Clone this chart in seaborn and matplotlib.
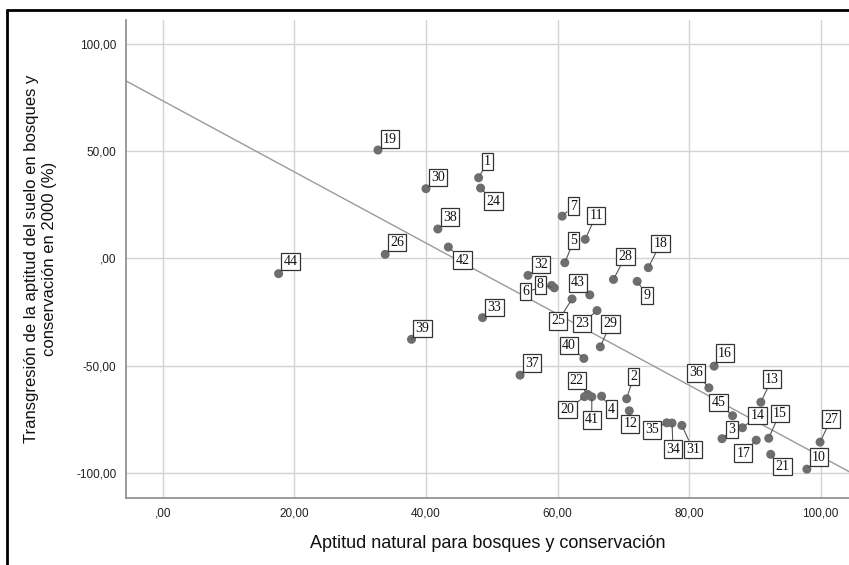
import pandas as pd
import numpy as np
import matplotlib
matplotlib.use("Agg")
import matplotlib.pyplot as plt
import seaborn as sns
from matplotlib.lines import Line2D
from matplotlib.ticker import FuncFormatter

# Data (case id, x, y)
case_id = list(range(1, 46))
aptitud = [48.0, 70.5, 85.0, 66.7, 61.1, 59.1, 60.7, 59.5, 72.1, 97.9,
           64.2, 70.9, 90.9, 88.1, 92.1, 83.8, 90.2, 73.8, 32.7, 64.1,
           92.4, 64.6, 66.0, 48.3, 62.2, 33.8, 99.9, 68.5, 66.5, 40.0,
           78.9, 55.5, 48.6, 77.4, 76.6, 83.0, 54.3, 41.8, 37.8, 64.0,
           65.2, 43.4, 64.9, 17.6, 86.6]
transgresion = [37.6, -65.4, -84.0, -64.2, -2.0, -12.6, 19.7, -13.7, -10.7, -98.2,
                8.9, -71.0, -67.0, -78.9, -83.8, -50.2, -84.7, -4.3, 50.5, -64.4,
                -91.3, -63.4, -24.3, 32.8, -18.9, 1.9, -85.6, -9.8, -41.2, 32.5,
                -77.8, -7.9, -27.6, -76.7, -76.6, -60.3, -54.4, 13.7, -37.7, -46.6,
                -64.5, 5.3, -17.0, -7.1, -73.3]

# where each id box sits relative to its point (pixels)
label_offsets = {
    1: (9, 16), 2: (7, 22), 3: (10, 9), 4: (10, -13), 5: (9, 22),
    6: (-26, -6), 7: (11, 10), 8: (-14, 3), 9: (10, -14), 10: (12, 12),
    11: (11, 24), 12: (1, -13), 13: (11, 23), 14: (15, 12), 15: (11, 25),
    16: (11, 13), 17: (-13, -13), 18: (12, 24), 19: (12, 11), 20: (-17, -13),
    21: (12, -12), 22: (-11, 14), 23: (-15, -13), 24: (13, -13), 25: (-14, -22),
    26: (12, 12), 27: (11, 23), 28: (12, 23), 29: (10, 23), 30: (12, 11),
    31: (11, -24), 32: (13, 11), 33: (12, 10), 34: (1, -26), 35: (-15, -7),
    36: (-13, 15), 37: (12, 12), 38: (12, 12), 39: (11, 11), 40: (-15, 13),
    41: (0, -23), 42: (14, -13), 43: (-12, 12), 44: (12, 12), 45: (-14, 13),
}

df = pd.DataFrame({"id": case_id, "x": aptitud, "y": transgresion})

sns.set_style("white")
plt.rcParams["font.family"] = ["Liberation Sans", "DejaVu Sans"]

fig = plt.figure(figsize=(8.49, 5.65), dpi=100)
ax = fig.add_axes([126 / 849, 1 - 497.7 / 565, 1 - 126 / 849, (497.7 - 20) / 565])

ax.set_xlim(-5.6, 104.3)
ax.set_ylim(-111.5, 111.1)

sns.regplot(data=df, x="x", y="y", ax=ax, scatter=False, ci=None, truncate=False,
            line_kws=dict(color="#9a9a9a", lw=1.0, zorder=2))
sns.scatterplot(data=df, x="x", y="y", ax=ax, color="#6e6e6e", s=42,
                edgecolor="none", zorder=3)

ax.set_xlim(-5.6, 104.3)
ax.set_ylim(-111.5, 111.1)

for i, xv, yv in zip(case_id, aptitud, transgresion):
    dx, dy = label_offsets[i]
    ax.annotate(str(i), xy=(xv, yv), xytext=(dx, dy), textcoords="offset pixels",
                ha="center", va="center", fontsize=10, family="Liberation Serif",
                color="#111111", zorder=5,
                bbox=dict(boxstyle="square,pad=0.16", fc="white", ec="#333333", lw=0.9),
                arrowprops=dict(arrowstyle="-", color="#555555", lw=0.8,
                                shrinkA=0, shrinkB=2))

def coma(v, pos):
    s = f"{v:.2f}".replace(".", ",")
    if s.startswith("0,"):
        s = s[1:]
    elif s.startswith("-0,"):
        s = s[2:]
    return s

ax.set_xticks([0, 20, 40, 60, 80, 100])
ax.set_yticks([-100, -50, 0, 50, 100])
ax.xaxis.set_major_formatter(FuncFormatter(coma))
ax.yaxis.set_major_formatter(FuncFormatter(coma))
ax.tick_params(axis="both", length=0, labelsize=8.5, colors="#222222", pad=7)

ax.grid(True, color="#d3d3d3", lw=1.0)
ax.set_axisbelow(True)
for side in ["top", "right"]:
    ax.spines[side].set_visible(False)
for side in ["left", "bottom"]:
    ax.spines[side].set_color("#8a8a8a")
    ax.spines[side].set_linewidth(1.2)

ax.set_xlabel("Aptitud natural para bosques y conservación", fontsize=13,
              color="#111111", labelpad=11)
ax.set_ylabel("Transgresión de la aptitud del suelo en bosques y\nconservación en 2000 (%)",
              fontsize=12, color="#111111", labelpad=14)

# outer frame of the original export
fig.add_artist(Line2D([6.5 / 849, 6.5 / 849], [0, 1 - 10 / 565], color="black", lw=2,
                      transform=fig.transFigure))
fig.add_artist(Line2D([6.5 / 849, 1], [1 - 10 / 565, 1 - 10 / 565], color="black", lw=2,
                      transform=fig.transFigure))

fig.savefig("out.png", dpi=100)
